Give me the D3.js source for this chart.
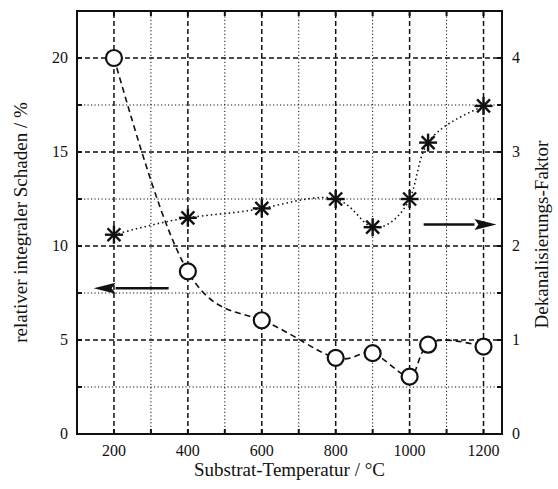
<!DOCTYPE html>
<html><head><meta charset="utf-8">
<script src="https://cdn.jsdelivr.net/npm/d3@7"></script>
<style>body{margin:0;background:#fff}svg{display:block}text{font-family:"Liberation Serif","Times New Roman",serif;fill:#111}</style>
</head><body>
<script>
const temps = [200, 400, 600, 800, 900, 1000, 1050, 1200];
const damage = [20.0, 8.65, 6.05, 4.05, 4.3, 3.05, 4.75, 4.65];
const factor = [2.12, 2.3, 2.4, 2.5, 2.2, 2.5, 3.1, 3.49];
const xTicks = [200, 400, 600, 800, 1000, 1200];
const leftTicks = [0, 5, 10, 15, 20];
const rightTicks = [0, 1, 2, 3, 4];

const W = 558, H = 489;
const m = {l: 77, r: 56, t: 11, b: 55};
const svg = d3.select("body").append("svg").attr("width", W).attr("height", H);
const x = d3.scaleLinear().domain([100, 1250]).range([m.l, W - m.r]);
const yL = d3.scaleLinear().domain([0, 22.5]).range([H - m.b, m.t]);
const yR = d3.scaleLinear().domain([0, 4.5]).range([H - m.b, m.t]);
const x0 = m.l, x1 = W - m.r, y0 = H - m.b, y1 = m.t;

const g = svg.append("g");
// grid
const majX = d3.range(200, 1201, 200), minX = d3.range(300, 1101, 200);
const majY = [5, 10, 15, 20], minY = [2.5, 7.5, 12.5, 17.5];
majX.forEach(v => g.append("line").attr("x1", x(v)).attr("x2", x(v)).attr("y1", y0).attr("y2", y1)
  .attr("stroke", "#111").attr("stroke-width", 1.5).attr("stroke-dasharray", "5,3"));
minX.forEach(v => g.append("line").attr("x1", x(v)).attr("x2", x(v)).attr("y1", y0).attr("y2", y1)
  .attr("stroke", "#111").attr("stroke-width", 1).attr("stroke-dasharray", "1.2,2.3"));
majY.forEach(v => g.append("line").attr("x1", x0).attr("x2", x1).attr("y1", yL(v)).attr("y2", yL(v))
  .attr("stroke", "#111").attr("stroke-width", 1.5).attr("stroke-dasharray", "5,3"));
minY.forEach(v => g.append("line").attr("x1", x0).attr("x2", x1).attr("y1", yL(v)).attr("y2", yL(v))
  .attr("stroke", "#111").attr("stroke-width", 1).attr("stroke-dasharray", "1.2,2.3"));

// inner ticks
d3.range(200, 1201, 100).forEach(v => {
  g.append("line").attr("x1", x(v)).attr("x2", x(v)).attr("y1", y0).attr("y2", y0 - 5).attr("stroke", "#111").attr("stroke-width", 2);
  g.append("line").attr("x1", x(v)).attr("x2", x(v)).attr("y1", y1).attr("y2", y1 + 5).attr("stroke", "#111").attr("stroke-width", 2);
});
d3.range(2.5, 22.4, 2.5).forEach(v => {
  g.append("line").attr("x1", x0).attr("x2", x0 + 5).attr("y1", yL(v)).attr("y2", yL(v)).attr("stroke", "#111").attr("stroke-width", 2);
  g.append("line").attr("x1", x1).attr("x2", x1 - 5).attr("y1", yL(v)).attr("y2", yL(v)).attr("stroke", "#111").attr("stroke-width", 2);
});

// frame
g.append("rect").attr("x", x0).attr("y", y1).attr("width", x1 - x0).attr("height", y0 - y1)
  .attr("fill", "none").attr("stroke", "#111").attr("stroke-width", 2);

// tick labels
xTicks.forEach(v => g.append("text").attr("x", x(v)).attr("y", y0 + 22).attr("text-anchor", "middle").attr("font-size", 16).text(v));
leftTicks.forEach(v => g.append("text").attr("x", x0 - 9).attr("y", yL(v) + 5).attr("text-anchor", "end").attr("font-size", 16).text(v));
rightTicks.forEach(v => g.append("text").attr("x", x1 + 10).attr("y", yR(v) + 5).attr("text-anchor", "start").attr("font-size", 16).text(v));

// axis titles
svg.append("text").attr("x", (x0 + x1) / 2).attr("y", 476).attr("text-anchor", "middle").attr("font-size", 19).text("Substrat-Temperatur / °C");
svg.append("text").attr("transform", `translate(27,${(y0 + y1) / 2}) rotate(-90)`).attr("text-anchor", "middle").attr("font-size", 19).text("relativer integraler Schaden / %");
svg.append("text").attr("transform", `translate(548,${(y0 + y1) / 2 + 12}) rotate(-90)`).attr("text-anchor", "middle").attr("font-size", 19).text("Dekanalisierungs-Faktor");

// curves
const dLine = d3.line().x((d, i) => x(temps[i])).y(d => yL(d)).curve(d3.curveNatural);
const fLine = d3.line().x((d, i) => x(temps[i])).y(d => yR(d)).curve(d3.curveNatural);
g.append("path").attr("d", dLine(damage)).attr("fill", "none").attr("stroke", "#111").attr("stroke-width", 1.6).attr("stroke-dasharray", "6,4");
g.append("path").attr("d", fLine(factor)).attr("fill", "none").attr("stroke", "#111").attr("stroke-width", 1.6).attr("stroke-dasharray", "1.5,3");

// markers
damage.forEach((d, i) => g.append("circle").attr("cx", x(temps[i])).attr("cy", yL(d)).attr("r", 8)
  .attr("fill", "#fff").attr("stroke", "#111").attr("stroke-width", 2.2));
factor.forEach((d, i) => {
  const cx = x(temps[i]), cy = yR(d), s = 9;
  const star = g.append("g").attr("transform", `translate(${cx},${cy})`);
  [[-s, 0, s, 0], [0, -s, 0, s], [-s * 0.72, -s * 0.72, s * 0.72, s * 0.72], [-s * 0.72, s * 0.72, s * 0.72, -s * 0.72]].forEach(l =>
    star.append("line").attr("x1", l[0]).attr("y1", l[1]).attr("x2", l[2]).attr("y2", l[3]).attr("stroke", "#111").attr("stroke-width", 2.4));
});

// arrows
function arrow(xa, xb, yy) {
  const dir = Math.sign(xb - xa), hl = 22, hw = 5.5;
  g.append("line").attr("x1", xa).attr("x2", xb - dir * hl).attr("y1", yy).attr("y2", yy).attr("stroke", "#111").attr("stroke-width", 2.5);
  g.append("path").attr("d", `M${xb},${yy}L${xb - dir * hl},${yy - hw}L${xb - dir * (hl - 4)},${yy}L${xb - dir * hl},${yy + hw}Z`).attr("fill", "#111");
}
arrow(x(348), x(145), yL(7.75));
arrow(x(1038), x(1235), yR(2.23));
</script>
</body></html>
